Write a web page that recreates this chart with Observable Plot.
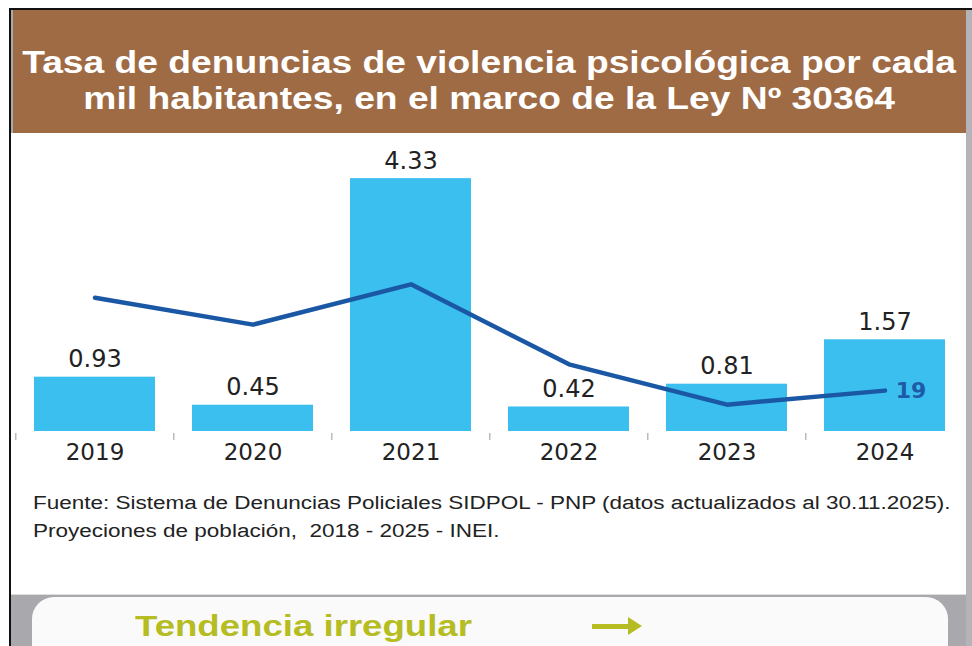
<!DOCTYPE html>
<html><head><meta charset="utf-8">
<script src="https://cdn.jsdelivr.net/npm/d3@7"></script>
<script src="https://cdn.jsdelivr.net/npm/@observablehq/plot@0.6"></script>
<style>
html,body{margin:0;padding:0;background:#fff;width:972px;height:646px;overflow:hidden;font-family:"Liberation Sans",Arial,sans-serif;}
#frame{position:absolute;left:9px;top:8px;width:963px;height:638px;border-left:2px solid #111;border-top:2px solid #111;box-sizing:border-box;}
#rightbar{position:absolute;left:966px;top:10px;width:6px;height:636px;background:#b4b4b8;}
#title{position:absolute;left:11px;top:10px;width:955px;height:123px;background:#9f6b45;color:#fff;font-weight:bold;font-size:31px;line-height:36px;text-align:center;box-sizing:border-box;padding-top:35px;border-left:2px solid #aaa;}
#title span{display:inline-block;transform:scaleX(1.2);transform-origin:center;white-space:nowrap;}
#chart{position:absolute;left:0;top:133px;}
#source{position:absolute;left:33px;top:489px;font-size:18px;line-height:28px;color:#222;transform:scaleX(1.25);transform-origin:left top;white-space:nowrap;}
#bottom{position:absolute;left:11px;top:594px;width:961px;height:52px;background:#a9a9ad;border-top:1px solid #ddd;}
#pill{position:absolute;left:32px;top:597px;width:916px;height:70px;background:#fafafa;border-radius:22px;}
#pilltext{position:absolute;left:135px;top:609px;font-size:30px;font-weight:bold;color:#b5bd22;transform:scaleX(1.22);transform-origin:left top;white-space:nowrap;}
#arrowbar{position:absolute;left:592px;top:624px;width:38px;height:5px;background:#b5bd22;}
#arrowhead{position:absolute;left:628px;top:617px;width:0;height:0;border-top:9.5px solid transparent;border-bottom:9.5px solid transparent;border-left:14px solid #b5bd22;}
</style></head>
<body>
<div id="frame"></div>
<div id="title"><span>Tasa de denuncias de violencia psicológica por cada</span><br><span>mil habitantes, en el marco de la Ley Nº 30364</span></div>
<div id="chart"></div>
<div id="source">Fuente: Sistema de Denuncias Policiales SIDPOL - PNP (datos actualizados al 30.11.2025).<br>Proyeciones de población,&nbsp; 2018 - 2025 - INEI.</div>
<div id="bottom"></div>
<div id="pill"></div>
<div id="pilltext">Tendencia irregular</div>
<div id="arrowbar"></div>
<div id="arrowhead"></div>
<div id="rightbar"></div>
<script>
const years = ["2019","2020","2021","2022","2023","2024"];
const rates = [0.93, 0.45, 4.33, 0.42, 0.81, 1.57];
const rateLabels = ["0.93","0.45","4.33","0.42","0.81","1.57"];
const trend = [2.29, 1.83, 2.52, 1.15, 0.46, 0.70];
const trendLabels = ["", "", "", "", "", "19"];

const bars = years.map((y,i)=>({year:y, rate:rates[i], label:rateLabels[i]}));
const line = years.map((y,i)=>({year:y, v:trend[i], label:trendLabels[i]}));

const chart = Plot.plot({
  width: 972, height: 342,
  marginLeft: 14, marginRight: 7, marginTop: 6, marginBottom: 44,
  style: {fontFamily: '"DejaVu Sans", sans-serif', background: "transparent"},
  x: {domain: years, paddingInner: 0.236, paddingOuter: 0.118, label: null},
  y: {domain: [0, 5], axis: null},
  marks: [
    Plot.barY(bars, {x: "year", y: "rate", fill: "#3bbfef"}),
    Plot.text(bars, {x: "year", y: "rate", text: "label", lineAnchor: "bottom", dy: -10, fontSize: 24, fill: "#222"}),
    Plot.ruleX(years, {x: d => d, y1: 0, y2: 0, dx: -79.25, insetTop: 2, insetBottom: -9, stroke: "#bbb", strokeWidth: 1.5}),
    Plot.line(line, {x: "year", y: "v", stroke: "#1a57a5", strokeWidth: 4.5, strokeLinecap: "round"}),
    Plot.text(line, {x: "year", y: "v", text: "label", dx: 26, fontSize: 22, fontWeight: "bold", fill: "#1d5ba8"}),
    Plot.axisX({tickSize: 0, tickPadding: 12, fontSize: 23, color: "#222", label: null})
  ]
});
document.getElementById("chart").appendChild(chart);
</script>
</body></html>
